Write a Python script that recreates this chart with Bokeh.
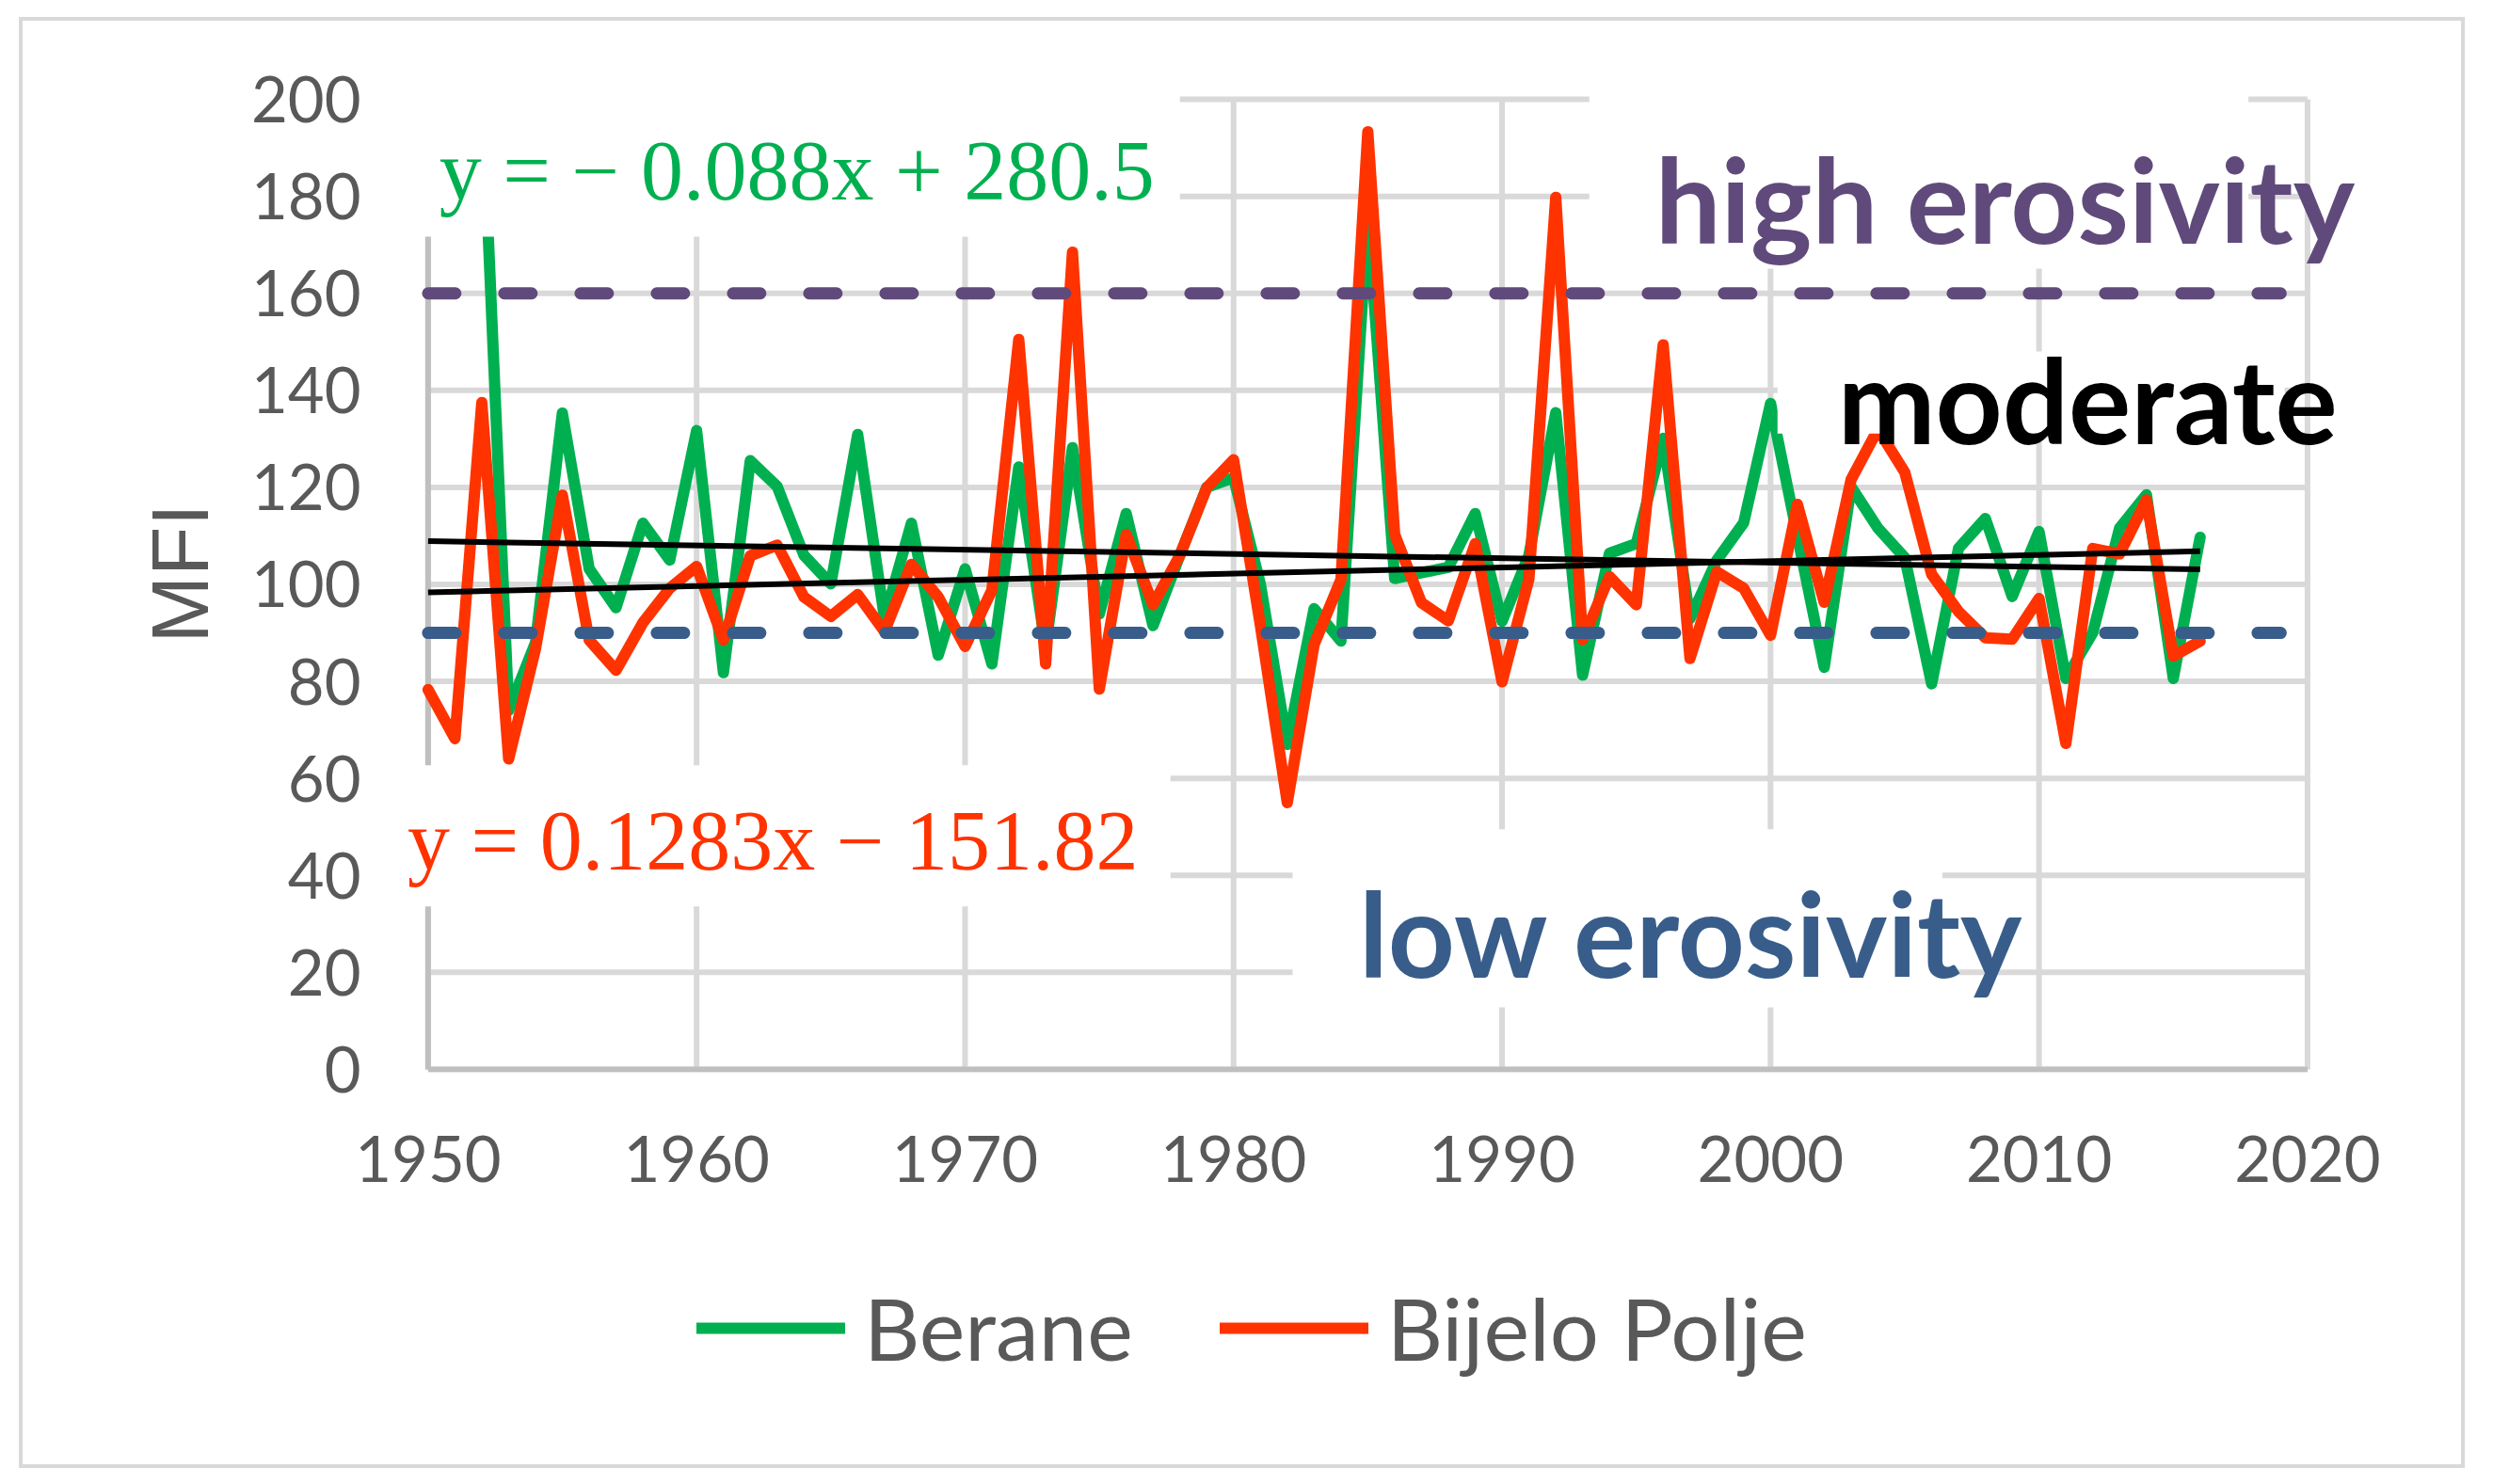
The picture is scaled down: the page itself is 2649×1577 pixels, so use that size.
from bokeh.plotting import figure
from bokeh.layouts import column
from bokeh.models import Legend, LegendItem, Label, FixedTicker, Range1d
from bokeh.embed import file_html
from bokeh.resources import INLINE

# ---------------- data ----------------
years_bp = list(range(1950, 2017))
bijelo_polje = [78.3, 68.2, 137.5, 64.0, 86.7, 118.4, 88.5, 82.3, 92.1, 99.2,
                103.7, 88.5, 105.9, 108.1, 97.4, 93.4, 97.9, 90.3, 104.1, 97.4,
                87.2, 98.8, 150.5, 83.6, 168.5, 78.4, 110.3, 95.8, 106.0, 119.9,
                125.7, 91.5, 55.0, 87.6, 101.0, 193.3, 110.3, 96.2, 92.5, 108.4,
                79.9, 101.1, 179.8, 88.6, 101.6, 95.8, 149.4, 84.7, 102.6, 99.2,
                89.5, 116.5, 96.3, 121.6, 132.0, 123.1, 102.1, 94.4, 89.0, 88.7,
                97.1, 67.2, 107.4, 106.3, 117.4, 85.2, 88.3]

years_be = list(range(1952, 2017))
berane = [203.0, 74.0, 88.0, 135.3, 103.2, 95.2, 112.6, 105.0, 131.7, 81.8,
          125.5, 120.2, 106.0, 100.1, 130.9, 93.0, 112.6, 85.4, 103.2, 83.6,
          124.2, 87.0, 128.2, 93.9, 114.6, 91.5, 106.0, 120.0, 122.0, 100.0,
          67.0, 95.0, 88.3, 176.0, 101.2, 102.4, 103.5, 114.6, 92.4, 106.0,
          135.4, 81.3, 106.4, 108.4, 130.1, 92.9, 105.0, 112.7, 137.3, 110.0,
          82.9, 120.1, 111.6, 105.5, 79.5, 107.4, 113.6, 97.5, 110.9, 80.6,
          90.0, 111.6, 118.5, 80.6, 109.7]

berane_trend = [-0.088, 280.5]      # slope, intercept
bp_trend = [0.1283, -151.82]
trend_years = [1950, 2016]

high_threshold = 160
low_threshold = 90
threshold_years = [1950, 2019]

x_ticks = [1950, 1960, 1970, 1980, 1990, 2000, 2010, 2020]
y_ticks = [0, 20, 40, 60, 80, 100, 120, 140, 160, 180, 200]

berane_eq = "y = \u2212 0.088x + 280.5"
bp_eq = "y = 0.1283x \u2212 151.82"

GREEN = "#00B050"
RED = "#FF3300"
PURPLE = "#604A7B"
BLUE = "#385D8A"
GRID = "#D9D9D9"
AXIS = "#BFBFBF"
TXT = "#595959"

# ---------------- main chart ----------------
p = figure(width=2591, height=1290, output_backend="svg", toolbar_location=None,
           x_range=Range1d(1948.9, 2023.0), y_range=Range1d(-0.6, 205.06),
           min_border_left=399, min_border_right=78, min_border_top=57,
           min_border_bottom=173)
p.outline_line_color = None
p.background_fill_color = "white"
p.border_fill_color = "white"
p.grid.visible = False

p.xaxis.ticker = FixedTicker(ticks=x_ticks)
p.yaxis.ticker = FixedTicker(ticks=y_ticks)
for ax in (p.xaxis[0], p.yaxis[0]):
    ax.axis_line_color = None
    ax.major_tick_line_color = None
    ax.minor_tick_line_color = None
    ax.major_label_text_font = "Lato"
    ax.major_label_text_font_size = "67px"
    ax.major_label_text_color = TXT
p.xaxis.major_label_standoff = 61
p.yaxis.major_label_standoff = 34
p.yaxis.axis_label = "MFI"
p.yaxis.axis_label_text_font = "Liberation Sans"
p.yaxis.axis_label_text_font_style = "normal"
p.yaxis.axis_label_text_font_size = "86px"
p.yaxis.axis_label_text_color = TXT
p.yaxis.axis_label_standoff = 25

# gridlines, limited to the 1950-2020 / 0-200 box
x0, x1 = x_ticks[0], x_ticks[-1]
y0, y1 = y_ticks[0], y_ticks[-1]
p.segment(x0=[x0] * len(y_ticks), y0=y_ticks, x1=[x1] * len(y_ticks), y1=y_ticks,
          line_color=GRID, line_width=6)
p.segment(x0=x_ticks, y0=[y0] * len(x_ticks), x1=x_ticks, y1=[y1] * len(x_ticks),
          line_color=GRID, line_width=6)
# axis lines
p.segment(x0=[x0, x0], y0=[y0, y0], x1=[x0, x1], y1=[y1, y0],
          line_color=AXIS, line_width=6)

line_style = dict(line_width=12, line_join="round", line_cap="round")
p.line(years_be, berane, line_color=GREEN, **line_style)
p.line(years_bp, bijelo_polje, line_color=RED, **line_style)

for slope, icpt in (berane_trend, bp_trend):
    p.line(trend_years, [slope * t + icpt for t in trend_years],
           line_color="black", line_width=6)

p.line(threshold_years, [high_threshold] * 2, line_color=PURPLE, line_width=13,
       line_dash="29 52", line_cap="round")
p.line(threshold_years, [low_threshold] * 2, line_color=BLUE, line_width=13,
       line_dash="29 52", line_cap="round")

# white text boxes (they hide lines and gridlines beneath)
p.quad(left=[1948.0, 1948.0, 1993.25, 2000.26, 1982.2],
       right=[1978.0, 1977.65, 2017.8, 2019.15, 2006.4],
       bottom=[171.7, 33.6, 165.1, 131.1, 12.8],
       top=[215.0, 62.7, 215.0, 148.0, 49.5],
       fill_color="white", line_color=None)

def add_label(x, y, text, font, size, color, style="normal"):
    p.add_layout(Label(x=x, y=y, text=text, text_font=font, text_font_size=size,
                       text_color=color, text_font_style=style,
                       text_align="left", text_baseline="alphabetic"))

add_label(1950.42, 185.3, berane_eq, "Liberation Serif", "90px", GREEN)
add_label(1949.23, 47.2, bp_eq, "Liberation Serif", "90px", RED)
add_label(1995.7, 179.6, "high erosivity", "Lato", "124px", PURPLE, "bold")
add_label(2002.5, 138.2, "moderate", "Lato", "124px", "black", "bold")
add_label(1984.67, 28.3, "low erosivity", "Lato", "124px", BLUE, "bold")

# ---------------- legend strip (series drawn outside its visible range) ----------------
q = figure(width=2591, height=244, output_backend="svg", toolbar_location=None,
           x_range=Range1d(0, 1), y_range=Range1d(0, 1),
           x_axis_type=None, y_axis_type=None,
           min_border_left=0, min_border_right=0, min_border_top=0,
           min_border_bottom=0)
q.outline_line_color = None
q.grid.visible = False
g_be = q.line(years_be, berane, line_color=GREEN, **line_style)
g_bp = q.line(years_bp, bijelo_polje, line_color=RED, **line_style)
legend = Legend(items=[LegendItem(label="Berane", renderers=[g_be]),
                       LegendItem(label="Bijelo Polje", renderers=[g_bp])],
                orientation="horizontal", location=(317, 90),
                glyph_width=158, glyph_height=100, label_height=100,
                label_standoff=20, spacing=92, padding=0, margin=0,
                border_line_color=None, background_fill_alpha=0,
                label_text_font="Lato", label_text_font_size="92px",
                label_text_color=TXT)
q.add_layout(legend, "center")

layout = column(p, q, spacing=0)
layout.styles = {"border": "4px solid #D9D9D9", "margin": "12px 12px 0px 12px",
                 "transform": "translate(8px, 6px)"}

open("out.html", "w").write(file_html(layout, INLINE))
